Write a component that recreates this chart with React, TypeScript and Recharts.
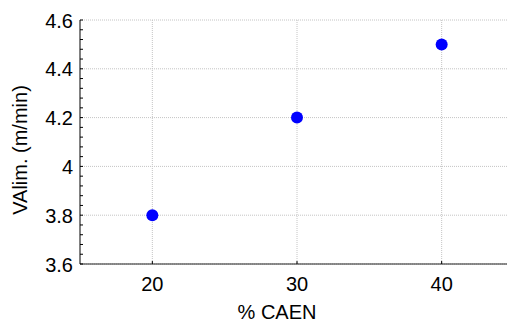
import React from "react";
import {
  ScatterChart,
  Scatter,
  XAxis,
  YAxis,
  CartesianGrid,
} from "recharts";

const caen = [20, 30, 40];
const vAlim = [3.8, 4.2, 4.5];

const X_TICKS = [20, 30, 40];
const Y_MAJOR = [3.6, 3.8, 4.0, 4.2, 4.4, 4.6];
const Y_ALL = [
  3.6, 3.64, 3.68, 3.72, 3.76, 3.8, 3.84, 3.88, 3.92, 3.96, 4.0, 4.04, 4.08,
  4.12, 4.16, 4.2, 4.24, 4.28, 4.32, 4.36, 4.4, 4.44, 4.48, 4.52, 4.56, 4.6,
];

const FONT = "'Liberation Sans', Arial, sans-serif";
const FS = 20;

const data = caen.map((x, i) => ({ x, y: vAlim[i] }));

const isMajor = (v: number) => Y_MAJOR.some((m) => Math.abs(m - v) < 1e-6);

function YTick(props: any) {
  const { y, payload } = props;
  const v = payload.value as number;
  const axisX = 80;
  if (!isMajor(v)) {
    return <line x1={axisX} x2={axisX + 3} y1={y} y2={y} stroke="#000" strokeWidth={1} />;
  }
  const label = Math.abs(v - 4) < 1e-6 ? "4" : v.toFixed(1);
  return (
    <g>
      <line x1={axisX} x2={axisX + 3} y1={y} y2={y} stroke="#000" strokeWidth={1} />
      <text x={73} y={y + 7.5} textAnchor="end" fontSize={FS} fontFamily={FONT} fill="#000">
        {label}
      </text>
    </g>
  );
}

function XTick(props: any) {
  const { x, payload } = props;
  return (
    <g>
      <line x1={x} x2={x} y1={264} y2={261} stroke="#000" strokeWidth={1} />
      <text x={x} y={290.5} textAnchor="middle" fontSize={FS} fontFamily={FONT} fill="#000">
        {payload.value}
      </text>
    </g>
  );
}

function TopTick(props: any) {
  const { x } = props;
  return <line x1={x} x2={x} y1={20} y2={23} stroke="#000" strokeWidth={1} />;
}

export default function App() {
  return (
    <div style={{ position: "absolute", left: 0, top: 0, width: 520, height: 324, background: "#fff" }}>
      <ScatterChart
        width={520}
        height={324}
        margin={{ top: 20, right: 6, bottom: 20, left: 0 }}
      >
        <CartesianGrid
          stroke="#c4c4c4"
          strokeDasharray="1 1"
          horizontalValues={Y_MAJOR}
          verticalValues={X_TICKS}
        />
        <XAxis
          type="number"
          dataKey="x"
          domain={[15, 45]}
          ticks={X_TICKS}
          height={40}
          tickLine={false}
          tick={<XTick />}
          axisLine={{ stroke: "#222", strokeWidth: 1 }}
          label={{
            content: () => (
              <text x={277} y={319} textAnchor="middle" fontSize={FS} fontFamily={FONT} fill="#000">
                % CAEN
              </text>
            ),
          }}
        />
        <XAxis
          xAxisId="top"
          orientation="top"
          type="number"
          dataKey="x"
          domain={[15, 45]}
          ticks={X_TICKS}
          height={0}
          tickLine={false}
          tick={<TopTick />}
          axisLine={{ stroke: "#7a7a7a", strokeWidth: 2 }}
        />
        <YAxis
          type="number"
          dataKey="y"
          domain={[3.6, 4.6]}
          ticks={Y_ALL}
          interval={0}
          width={80}
          tickLine={false}
          tick={<YTick />}
          axisLine={{ stroke: "#000", strokeWidth: 1 }}
          label={{
            content: () => (
              <text
                x={20}
                y={150}
                transform="rotate(-90, 20, 150)"
                textAnchor="middle"
                dominantBaseline="central"
                fontSize={FS}
                fontFamily={FONT}
                fill="#000"
              >
                VAlim. (m/min)
              </text>
            ),
          }}
        />
        <Scatter
          data={data}
          isAnimationActive={false}
          shape={(p: any) => <circle cx={p.cx} cy={p.cy} r={6} fill="#0000ff" />}
        />
      </ScatterChart>
    </div>
  );
}
